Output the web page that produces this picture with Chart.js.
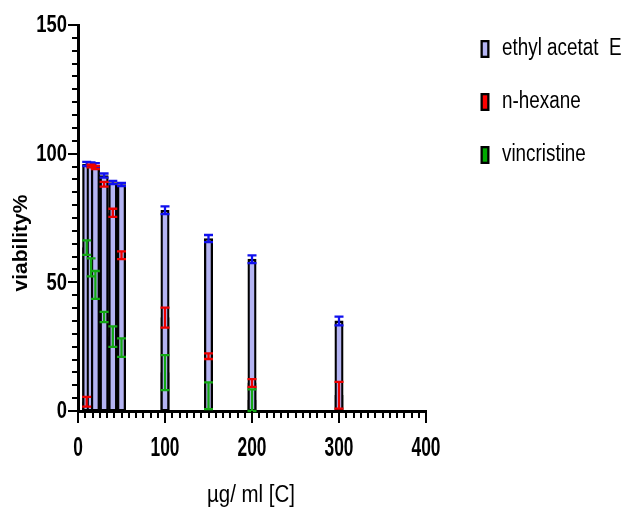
<!DOCTYPE html>
<html>
<head>
<meta charset="utf-8">
<script src="https://cdn.jsdelivr.net/npm/chart.js@4.4.1/dist/chart.umd.min.js"></script>
<style>
  html, body { margin: 0; padding: 0; background: #ffffff; }
  #wrap { width: 627px; height: 512px; }
</style>
</head>
<body>
<div id="wrap"><canvas id="c" width="627" height="512"></canvas></div>
<script>
// ---- data ----
const doses = [10, 15, 20, 30, 40, 50, 100, 150, 200, 300];
const seriesLabels = ['ethyl acetat  E', 'n-hexane', 'vincristine'];
const ethylMean = [96, 95.8, 95.5, 91.5, 88.8, 88, 78, 67, 59, 35];
const ethylErr  = [0.8, 0.8, 0.8, 0.8, 0.6, 0.6, 1.5, 1.4, 1.5, 1.7];
const hexaneMean = [3.6, 95.2, 94.6, 88.1, 77, 60.5, 36.3, 21.3, 10.9, 6.1];
const hexaneErr  = [1.9, 0.5, 0.6, 0.9, 1.6, 1.5, 3.9, 1.1, 1.5, 5.2];
const vincMean = [63.5, 55.8, 49, 36.5, 28.9, 24.6, 14.9, 5.9, 4.2, null];
const vincErr  = [2.8, 3.5, 5.4, 2.0, 4.0, 3.6, 6.8, 5.2, 4.2, null];
const xTickValues = [0, 100, 200, 300, 400];
const xTickLabels = ['0', '100', '200', '300', '400'];
const yTickValues = [0, 50, 100, 150];
const yTickLabels = ['0', '50', '100', '150'];
const xTitle = 'µg/ ml [C]';
const yTitle = 'viability%';

// ---- styling ----
const FONT = '"Liberation Sans", Arial, Helvetica, sans-serif';
const barColors = ['#b4b4f2', '#ff0000', '#00aa00'];
const errColors = ['#1010ee', '#ee0000', '#14a814'];
const means = [ethylMean, hexaneMean, vincMean];
const errs = [ethylErr, hexaneErr, vincErr];

function pts(arr) {
  return doses.map((d, i) => ({ x: d, y: arr[i] })).filter(p => p.y !== null);
}

function drawText(ctx, text, x, y, font, align, sx, rot) {
  ctx.save();
  ctx.translate(x, y);
  if (rot) ctx.rotate(rot);
  ctx.scale(sx, 1);
  ctx.font = font;
  ctx.fillStyle = '#000';
  ctx.textAlign = align;
  ctx.textBaseline = 'middle';
  ctx.fillText(text, 0, 0);
  ctx.restore();
}

const errorBars = {
  id: 'errorBars',
  afterDatasetsDraw(chart) {
    const ctx = chart.ctx, xs = chart.scales.x, ys = chart.scales.y;
    ctx.save();
    for (let s = 0; s < means.length; s++) {
      ctx.strokeStyle = errColors[s];
      ctx.lineWidth = 2.3;
      for (let i = 0; i < doses.length; i++) {
        const m = means[s][i], e = errs[s][i];
        if (m === null) continue;
        const x = xs.getPixelForValue(doses[i]);
        const yt = ys.getPixelForValue(m + e);
        const yb = ys.getPixelForValue(Math.max(0, m - e));
        ctx.beginPath();
        ctx.moveTo(x, yt); ctx.lineTo(x, yb);
        ctx.moveTo(x - 4.5, yt); ctx.lineTo(x + 4.5, yt);
        ctx.moveTo(x - 4.5, yb); ctx.lineTo(x + 4.5, yb);
        ctx.stroke();
      }
    }
    ctx.restore();
  }
};

const axesDecor = {
  id: 'axesDecor',
  afterDraw(chart) {
    const ctx = chart.ctx, xs = chart.scales.x, ys = chart.scales.y, ca = chart.chartArea;
    ctx.save();
    ctx.strokeStyle = '#000';
    ctx.lineWidth = 2;
    // y ticks (major every 50, minor every 5)
    for (let v = 0; v <= 150; v += 5) {
      const y = Math.round(ys.getPixelForValue(v));
      const len = (v % 50 === 0) ? 10 : 6;
      ctx.beginPath(); ctx.moveTo(ca.left - len, y); ctx.lineTo(ca.left, y); ctx.stroke();
    }
    // x ticks (major every 100, minor every 100/12)
    for (let k = 0; k <= 48; k++) {
      const v = k * 100 / 12;
      const x = Math.round(xs.getPixelForValue(v));
      const len = (k % 12 === 0) ? 12 : 7;
      ctx.beginPath(); ctx.moveTo(x, ca.bottom); ctx.lineTo(x, ca.bottom + len); ctx.stroke();
    }
    ctx.restore();
    // tick labels
    yTickValues.forEach((v, i) => {
      drawText(ctx, yTickLabels[i], ca.left - 11, ys.getPixelForValue(v) + 1, 'bold 23px ' + FONT, 'right', 0.8);
    });
    xTickValues.forEach((v, i) => {
      drawText(ctx, xTickLabels[i], xs.getPixelForValue(v), ca.bottom + 37, 'bold 28px ' + FONT, 'center', 0.62);
    });
    // axis titles
    drawText(ctx, xTitle, (ca.left + ca.right) / 2 - 1, 496, '23px ' + FONT, 'center', 0.89);
    drawText(ctx, yTitle, 21, 243, 'bold 21px ' + FONT, 'center', 1, -Math.PI / 2);
    // legend
    const rows = [49, 102, 155];
    chart.data.datasets.forEach((ds, i) => {
      const cy = rows[i];
      ctx.save();
      ctx.fillStyle = '#000';
      ctx.fillRect(480.5, cy - 9, 9, 18);
      ctx.fillStyle = ds.backgroundColor;
      ctx.fillRect(482.8, cy - 6.7, 4.4, 13.4);
      ctx.restore();
      drawText(ctx, ds.label, 502, cy, '23px ' + FONT, 'left', 0.82);
    });
  }
};

const datasets = [ethylMean, hexaneMean, vincMean].map((arr, s) => ({
  label: seriesLabels[s],
  data: pts(arr),
  backgroundColor: barColors[s],
  borderColor: '#000000',
  borderWidth: 2.3,
  borderSkipped: false,
  barThickness: 8.4,
  grouped: false
}));

new Chart(document.getElementById('c'), {
  type: 'bar',
  data: { datasets },
  options: {
    responsive: false,
    animation: false,
    devicePixelRatio: 1,
    layout: { padding: { top: 25, right: 201, left: 0, bottom: 0 } },
    plugins: { legend: { display: false }, tooltip: { enabled: false } },
    scales: {
      x: {
        type: 'linear', min: 0, max: 400, offset: false,
        grid: { display: false, offset: false },
        ticks: { display: false, stepSize: 100 },
        border: { display: true, color: '#000', width: 3 },
        afterFit(scale) { scale.height = 101; }
      },
      y: {
        type: 'linear', min: 0, max: 150,
        grid: { display: false },
        ticks: { display: false, stepSize: 50 },
        border: { display: true, color: '#000', width: 3 },
        afterFit(scale) { scale.width = 78; }
      }
    }
  },
  plugins: [errorBars, axesDecor]
});
</script>
</body>
</html>
